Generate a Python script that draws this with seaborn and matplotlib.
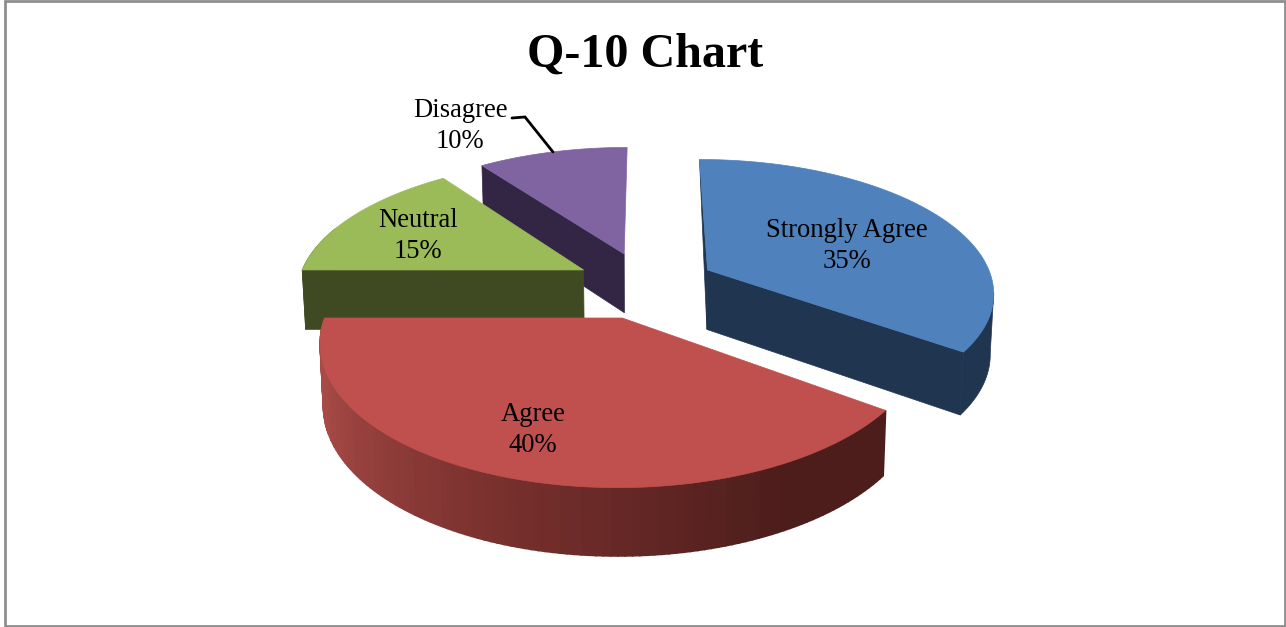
import numpy as np
import matplotlib
matplotlib.use('Agg')
import matplotlib.pyplot as plt
import seaborn as sns

categories = ['Strongly Agree', 'Agree', 'Neutral', 'Disagree']
percents = [35, 40, 15, 10]

top_colors = ['#4F81BD', '#C0504D', '#9BBB59', '#8064A2']
side_colors = ['#1F3550', '#4C1D1B', '#3F4A22', '#332644']

# how far each slice is pulled out of the pie (in radius units)
explode = [(0.215, 0.357), (-0.083, 0.0), (-0.2256, 0.357), (-0.0827, 0.485)]
label_pos = [(847, 246), (533, 430), (418, 236), (460, 126)]

# perspective of the fake 3d pie
vx, vy = 647, -566
A, H, D, k = 297.5, 884, 61.5, 0.161


def project(x, y, z=0.0):
    s = 1 / (1 + k * y)
    return vx + A * (1 - 0.01 * z) * x * s, vy + H * s + D * z * s ** 0.6


def arc(off, t0, t1, z=0.0):
    t = np.radians(np.linspace(t0, t1, max(int(abs(t1 - t0)) * 2, 2)))
    return project(off[0] + np.sin(t), off[1] + np.cos(t), z)


def rim_point(off, t, z=0.0):
    r = np.radians(t)
    return project(off[0] + np.sin(r), off[1] + np.cos(r), z)


sns.set_theme(style='white')
plt.rcParams['font.family'] = ['Liberation Serif', 'DejaVu Serif']

fig = plt.figure(figsize=(12.86, 6.27), dpi=100)
ax = fig.add_axes([0, 0, 1, 1])
ax.set_xlim(0, 1286)
ax.set_ylim(627, 0)
ax.axis('off')

ax.add_patch(plt.Rectangle((5, 1), 1280, 625, fill=False, ec='#8E8E8E', lw=2))

edges = np.cumsum([0] + percents) * 3.6
red_shade = sns.blend_palette(['#A84B47', '#7A312E', '#4C1D1B'], 60)

# back to front: Disagree, Strongly Agree, Neutral, Agree
for i in [3, 0, 2, 1]:
    off = explode[i]
    t0, t1 = edges[i], edges[i + 1]
    cx, cy = project(off[0], off[1])
    bx, by = project(off[0], off[1], 1)

    # cut faces
    ex, ey = rim_point(off, t0)
    fx, fy = rim_point(off, t0, 1)
    if i == 0:
        ax.fill([cx, ex, bx], [cy, ey, by], color=side_colors[i], lw=0.5)
        ex, ey = rim_point(off, t1)
        fx, fy = rim_point(off, t1, 1)
    if i != 1:
        ax.fill([cx, ex, fx, bx], [cy, ey, fy, by], color=side_colors[i], lw=0.5)

    # outer rim, only the part facing us
    r0, r1 = max(t0, 100), min(t1, 290)
    if r1 > r0:
        if i == 1:
            steps = np.linspace(r0, r1, 121)
            for a, b in zip(steps[:-1], steps[1:]):
                xa, ya = arc(off, a, b)
                xb, yb = arc(off, a, b, 1)
                idx = int(np.clip((a - 150) / (250 - 150), 0, 1) * 59)
                ax.fill(np.r_[xa, xb[::-1]], np.r_[ya, yb[::-1]], color=red_shade[59 - idx], lw=1.2)
        else:
            xa, ya = arc(off, r0, r1)
            xb, yb = arc(off, r0, r1, 1)
            ax.fill(np.r_[xa, xb[::-1]], np.r_[ya, yb[::-1]], color=side_colors[i], lw=0.5)

    # top face
    xt, yt = arc(off, t0, t1)
    ax.fill(np.r_[cx, xt], np.r_[cy, yt], color=top_colors[i], lw=0.5)

ax.plot([512, 525, 553], [118, 117, 152], color='black', lw=2, solid_joinstyle='miter')

for cat, pct, (lx, ly) in zip(categories, percents, label_pos):
    ax.text(lx, ly, f'{cat}\n{pct}%', ha='center', va='center', fontsize=19.2,
            color='black', linespacing=1.3)

ax.text(645, 55, 'Q-10 Chart', ha='center', va='center', fontsize=34.6,
        fontweight='bold', color='black')

fig.savefig('out.png', dpi=100)
